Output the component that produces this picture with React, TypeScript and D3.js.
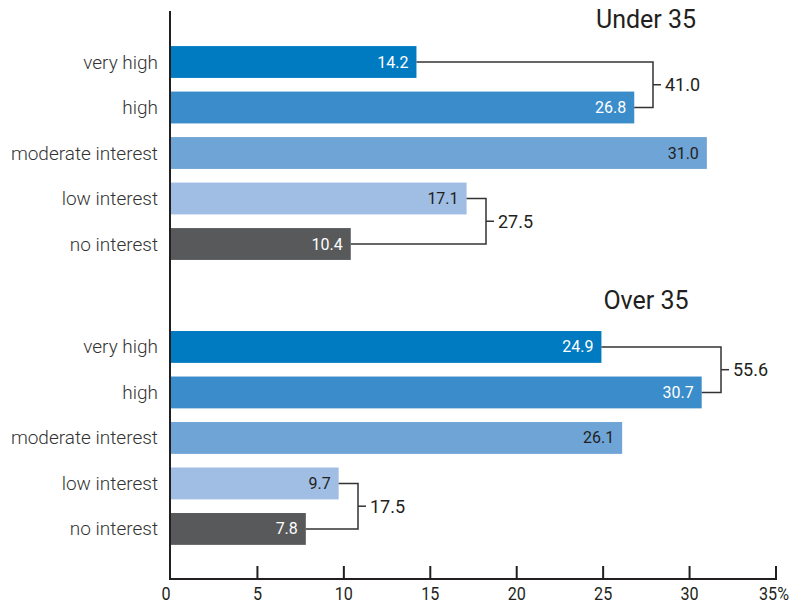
import React from 'react';
import * as d3 from 'd3';

// chart values
const categories = ['very high', 'high', 'moderate interest', 'low interest', 'no interest'];
const groupTitles = ['Under 35', 'Over 35'];
const under35 = [14.2, 26.8, 31.0, 17.1, 10.4];
const over35 = [24.9, 30.7, 26.1, 9.7, 7.8];
const under35Totals = [41.0, 27.5];
const over35Totals = [55.6, 17.5];
const bracketPairs = [[0, 1], [3, 4]];
const xTicks = [0, 5, 10, 15, 20, 25, 30, 35];

const barColors = ['#007ac1', '#3b8cca', '#6fa4d6', '#a0bde3', '#58595b'];
const valueTextColors = ['#ffffff', '#ffffff', '#231f20', '#231f20', '#ffffff'];

const W = 796;
const H = 605;
const FONT = 'Roboto, "Open Sans", sans-serif';

const App = () => {
  const x = d3.scaleLinear().domain([0, 35]).range([171, 776]);

  // one band scale per group, same step
  const groupTops = [39.25, 324.2];
  const bandScales = groupTops.map(t =>
    d3.scaleBand<string>()
      .domain(categories)
      .range([t, t + 5 * 45.5])
      .paddingInner(0.3)
      .paddingOuter(0.15)
  );

  const groups = [
    { title: groupTitles[0], values: under35, totals: under35Totals, titleY: 28 },
    { title: groupTitles[1], values: over35, totals: over35Totals, titleY: 309 }
  ];

  const axisY = 579;

  return (
    <svg width={W} height={H} style={{ position: 'absolute', left: 0, top: 0, background: '#fff' }}
      fontFamily={FONT}>
      {groups.map((g, gi) => {
        const y = bandScales[gi];
        const bw = y.bandwidth();
        const cy = (i: number) => (y(categories[i]) as number) + bw / 2;
        return (
          <g key={g.title}>
            <text x={646} y={g.titleY} textAnchor="middle" fontSize={25} fill="#231f20">{g.title}</text>
            {categories.map((c, i) => (
              <g key={c}>
                <rect x={x(0) - 1} y={y(c)} width={x(g.values[i]) - x(0) + 1} height={bw} fill={barColors[i]} />
                <text x={158} y={cy(i)} textAnchor="end" dominantBaseline="central" fontSize={19} fontWeight={300}
                  fill="#333">{c}</text>
                <text x={x(g.values[i]) - 8} y={cy(i)} textAnchor="end" dominantBaseline="central" fontSize={16}
                  fill={valueTextColors[i]}>{g.values[i].toFixed(1)}</text>
              </g>
            ))}
            {bracketPairs.map(([a, b], k) => {
              const bx = Math.round(x(Math.max(g.values[a], g.values[b]))) + 19;
              const ya = cy(a);
              const yb = cy(b);
              const ym = (ya + yb) / 2;
              return (
                <g key={k} stroke="#333" strokeWidth={1.5} fill="none">
                  <path d={`M${x(g.values[a])},${ya}H${bx}V${yb}H${x(g.values[b])}`} />
                  <line x1={bx} x2={bx + 8} y1={ym} y2={ym} />
                  <text x={bx + 12} y={ym} dominantBaseline="central" fontSize={18} fill="#231f20" stroke="none">
                    {g.totals[k].toFixed(1)}
                  </text>
                </g>
              );
            })}
          </g>
        );
      })}

      {/* y axis line */}
      <line x1={170} x2={170} y1={11} y2={axisY + 1} stroke="#231f20" strokeWidth={2} />

      {/* x axis */}
      <line x1={169} x2={777} y1={axisY} y2={axisY} stroke="#231f20" strokeWidth={2} />
      {xTicks.map(t => (
        <g key={t}>
          {t > 0 && <line x1={x(t)} x2={x(t)} y1={566} y2={axisY} stroke="#231f20" strokeWidth={2} />}
          <text transform={`translate(${t === 0 ? 166 : t === 35 ? x(t) - 2 : x(t)},600) scale(0.85,1)`}
            textAnchor="middle" fontSize={19} fill="#231f20">{t === 35 ? '35%' : t}</text>
        </g>
      ))}
    </svg>
  );
};

export default App;
